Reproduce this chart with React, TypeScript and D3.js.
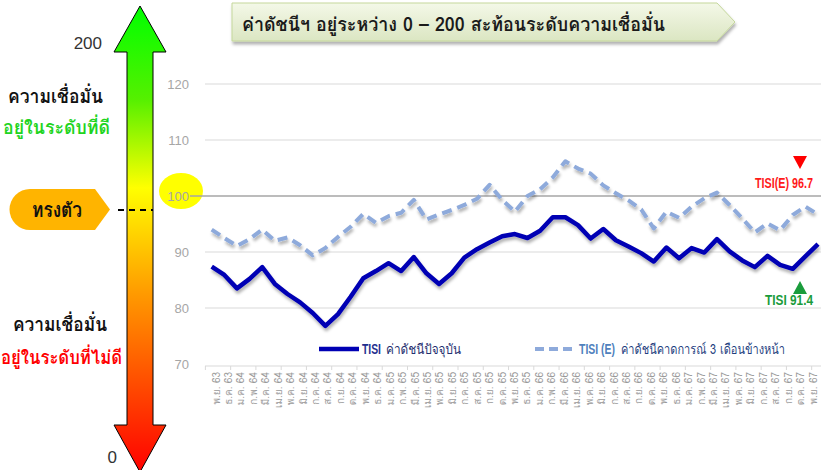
import React from 'react';
import * as d3 from 'd3';

const months = [
  'พ.ย. 63', 'ธ.ค. 63',
  'ม.ค. 64', 'ก.พ. 64', 'มี.ค. 64', 'เม.ย. 64', 'พ.ค. 64', 'มิ.ย. 64', 'ก.ค. 64', 'ส.ค. 64', 'ก.ย. 64', 'ต.ค. 64', 'พ.ย. 64', 'ธ.ค. 64',
  'ม.ค. 65', 'ก.พ. 65', 'มี.ค. 65', 'เม.ย. 65', 'พ.ค. 65', 'มิ.ย. 65', 'ก.ค. 65', 'ส.ค. 65', 'ก.ย. 65', 'ต.ค. 65', 'พ.ย. 65', 'ธ.ค. 65',
  'ม.ค. 66', 'ก.พ. 66', 'มี.ค. 66', 'เม.ย. 66', 'พ.ค. 66', 'มิ.ย. 66', 'ก.ค. 66', 'ส.ค. 66', 'ก.ย. 66', 'ต.ค. 66', 'พ.ย. 66', 'ธ.ค. 66',
  'ม.ค. 67', 'ก.พ. 67', 'มี.ค. 67', 'เม.ย. 67', 'พ.ค. 67', 'มิ.ย. 67', 'ก.ค. 67', 'ส.ค. 67', 'ก.ย. 67', 'ต.ค. 67', 'พ.ย. 67',
];

// TISI - current index
const tisi = [
  87.4, 85.9, 83.5, 85.2, 87.3, 84.3, 82.5, 81.0, 79.1, 76.8, 78.9, 82.0, 85.3, 86.6,
  88.0, 86.6, 89.1, 86.2, 84.3, 86.2, 89.0, 90.5, 91.7, 92.8, 93.2, 92.5, 93.8, 96.2,
  96.2, 94.8, 92.4, 94.1, 92.1, 91.0, 89.8, 88.3, 90.8, 88.9, 90.7, 89.9, 92.3, 90.1,
  88.5, 87.3, 89.3, 87.7, 87.0, 89.2, 91.4,
];

// TISI(E) - 3 months ahead expectation
const tisiE = [
  94.0, 92.5, 91.1, 92.3, 94.0, 92.0, 92.6, 91.2, 89.4, 90.7, 92.7, 94.5, 96.8, 95.2,
  96.4, 97.0, 99.3, 95.8, 96.7, 97.5, 98.4, 99.5, 102.0, 99.3, 97.2, 100.0, 101.2, 103.3,
  106.2, 104.9, 104.0, 101.9, 100.5, 99.2, 97.6, 94.2, 97.2, 96.1, 98.1, 99.6, 100.6, 98.4,
  96.0, 93.5, 95.1, 93.9, 96.6, 98.1, 96.7,
];

const yTicks = [70, 80, 90, 100, 110, 120];

const THAI = "Loma, Garuda, Waree, Norasi, Tahoma, 'Noto Sans Thai', sans-serif";
const LATIN = "'Liberation Sans', Arial, sans-serif";
const NARROW = "'Liberation Sans Narrow', 'Arial Narrow', 'Liberation Sans', sans-serif";

export default function App() {
  const width = 821;
  const height = 470;

  const x = d3.scalePoint<string>().domain(months).range([211.7, 818]);
  // the category labels sit on a slightly narrower span than the points
  const xLabel = d3.scalePoint<string>().domain(months).range([216, 813]);
  const y = d3.scaleLinear().domain([70, 120]).range([364, 84]);
  const step = x.step();

  const line = d3
    .line<number>()
    .x((d, i) => x(months[i]) as number)
    .y(d => y(d));

  const last = months.length - 1;
  const lastX = x(months[last]) as number;

  return (
    <svg
      width={width}
      height={height}
      style={{ position: 'absolute', left: 0, top: 0, background: '#fff' }}
    >
      <defs>
        <linearGradient id="arrowGrad" x1="0" y1="0" x2="0" y2="1">
          <stop offset="0" stopColor="#00ff00" />
          <stop offset="0.2" stopColor="#55f000" />
          <stop offset="0.39" stopColor="#ffff00" />
          <stop offset="0.62" stopColor="#ff9900" />
          <stop offset="1" stopColor="#ff0000" />
        </linearGradient>
        <linearGradient id="titleGrad" x1="0" y1="0" x2="0" y2="1">
          <stop offset="0" stopColor="#f4f8e8" />
          <stop offset="1" stopColor="#dbe6c2" />
        </linearGradient>
        <filter id="shadow" x="-5%" y="-20%" width="110%" height="150%">
          <feDropShadow dx="1" dy="3" stdDeviation="1.6" floodColor="#000" floodOpacity="0.3" />
        </filter>
      </defs>

      {/* title banner */}
      <path
        d="M232,3 H717 L735,22 L717,41 H232 Z"
        fill="url(#titleGrad)"
        stroke="#c4d79b"
        strokeWidth={1}
        filter="url(#shadow)"
      />
      <text x={242} y={31} fontFamily={THAI} fontSize={19} fontWeight="bold" fill="#1a1a1a"
        textLength={423} lengthAdjust="spacingAndGlyphs">
        ค่าดัชนีฯ อยู่ระหว่าง 0 – 200 สะท้อนระดับความเชื่อมั่น
      </text>

      {/* gradient arrow on the left */}
      <path
        d="M140,6 L166,52 L153,52 L153,425 L166,425 L140,472 L114,425 L127,425 L127,52 L114,52 Z"
        fill="url(#arrowGrad)"
        stroke="#000"
        strokeWidth={1}
      />
      <text x={102} y={49} textAnchor="end" fontFamily={LATIN} fontSize={17} fill="#333">200</text>
      <text x={117} y={463} textAnchor="end" fontFamily={LATIN} fontSize={17} fill="#333">0</text>
      <line x1={118} x2={153} y1={210} y2={210} stroke="#000" strokeWidth={2} strokeDasharray="6,5" />

      <text x={8} y={103} fontFamily={THAI} fontSize={19} fontWeight="bold" fill="#111"
        textLength={95} lengthAdjust="spacingAndGlyphs">ความเชื่อมั่น</text>
      <text x={3} y={134} fontFamily={THAI} fontSize={19} fontWeight="bold" fill="#1fd41f"
        textLength={107} lengthAdjust="spacingAndGlyphs">อยู่ในระดับที่ดี</text>
      <text x={13} y={331} fontFamily={THAI} fontSize={19} fontWeight="bold" fill="#111"
        textLength={94} lengthAdjust="spacingAndGlyphs">ความเชื่อมั่น</text>
      <text x={1} y={364} fontFamily={THAI} fontSize={19} fontWeight="bold" fill="#ff0000"
        textLength={121} lengthAdjust="spacingAndGlyphs">อยู่ในระดับที่ไม่ดี</text>

      <path
        d="M30,189 H95 L110,209.5 L95,230 H30 A20.5,20.5 0 0 1 30,189 Z"
        fill="#ffb400"
      />
      <text x={32} y={217} fontFamily={THAI} fontSize={20} fontWeight="bold" fill="#111"
        textLength={50} lengthAdjust="spacingAndGlyphs">ทรงตัว</text>

      {/* highlight of the 100 level */}
      <ellipse cx={181} cy={191} rx={22} ry={18} fill="#ffff00" />

      {/* grid and y labels */}
      {yTicks.map(t => (
        <g key={t}>
          {t !== 70 && (
            <line
              x1={t === 100 ? 190 : 205}
              x2={width}
              y1={y(t)}
              y2={y(t)}
              stroke={t === 100 ? '#a6a6a6' : '#d9d9d9'}
              strokeWidth={t === 100 ? 1.5 : 1.2}
            />
          )}
          <text
            x={189}
            y={y(t)}
            dy="0.35em"
            textAnchor="end"
            fontFamily={LATIN}
            fontSize={13}
            fill="#a6a6a6"
          >
            {t}
          </text>
        </g>
      ))}

      {/* x axis */}
      <line x1={205} x2={width} y1={y(70) + 2} y2={y(70) + 2} stroke="#d9d9d9" strokeWidth={1.2} />
      {months.map((m, i) =>
        i % 2 === 0 ? (
          <line
            key={'t' + m}
            x1={(x(m) as number) - step / 2}
            x2={(x(m) as number) - step / 2}
            y1={y(70) + 2}
            y2={y(70) + 6}
            stroke="#d9d9d9"
          />
        ) : null,
      )}
      {months.map(m => (
        <text
          key={m}
          transform={`translate(${xLabel(m)},372) rotate(-90)`}
          textAnchor="end"
          dy="0.35em"
          fontFamily={THAI}
          fontSize={10}
          fill="#9a9a9a"
        >
          {m}
        </text>
      ))}

      {/* series */}
      <path
        d={line(tisiE) || ''}
        fill="none"
        stroke="#8eaadb"
        strokeWidth={4}
        strokeDasharray="10,6"
        strokeLinejoin="round"
        filter="url(#shadow)"
      />
      <path
        d={line(tisi) || ''}
        fill="none"
        stroke="#0000b4"
        strokeWidth={4.5}
        strokeLinejoin="round"
        filter="url(#shadow)"
      />

      {/* latest value callouts */}
      <path d={`M${lastX - 25},${156} h14 l-7,13 Z`} fill="#ff0000" />
      <text x={755} y={188} fontFamily={NARROW} fontSize={14} fontWeight="bold" fill="#ff1a1a"
        textLength={58} lengthAdjust="spacingAndGlyphs">
        {`TISI(E) ${tisiE[last]}`}
      </text>
      <path d={`M${lastX - 25},${294} h14 l-7,-13 Z`} fill="#1a9c3c" />
      <text x={765} y={305} fontFamily={NARROW} fontSize={14} fontWeight="bold" fill="#1a9c3c"
        textLength={48} lengthAdjust="spacingAndGlyphs">
        {`TISI ${tisi[last]}`}
      </text>

      {/* legend */}
      <line x1={319} x2={359} y1={349} y2={349} stroke="#0000b4" strokeWidth={4.5} />
      <text x={362} y={354} fontFamily={NARROW} fontSize={14} fontWeight="bold" fill="#1f2f8f"
        textLength={19} lengthAdjust="spacingAndGlyphs">TISI</text>
      <text x={386} y={354} fontFamily={THAI} fontSize={14} fill="#1f2f6f"
        textLength={75} lengthAdjust="spacingAndGlyphs">ค่าดัชนีปัจจุบัน</text>

      <line x1={535} x2={574} y1={349} y2={349} stroke="#8eaadb" strokeWidth={4} strokeDasharray="9,5" />
      <text x={579} y={354} fontFamily={NARROW} fontSize={14} fontWeight="bold" fill="#4f81bd"
        textLength={36} lengthAdjust="spacingAndGlyphs">TISI (E)</text>
      <text x={621} y={354} fontFamily={THAI} fontSize={14} fill="#1f3f7f"
        textLength={164} lengthAdjust="spacingAndGlyphs">ค่าดัชนีคาดการณ์ 3 เดือนข้างหน้า</text>
    </svg>
  );
}
